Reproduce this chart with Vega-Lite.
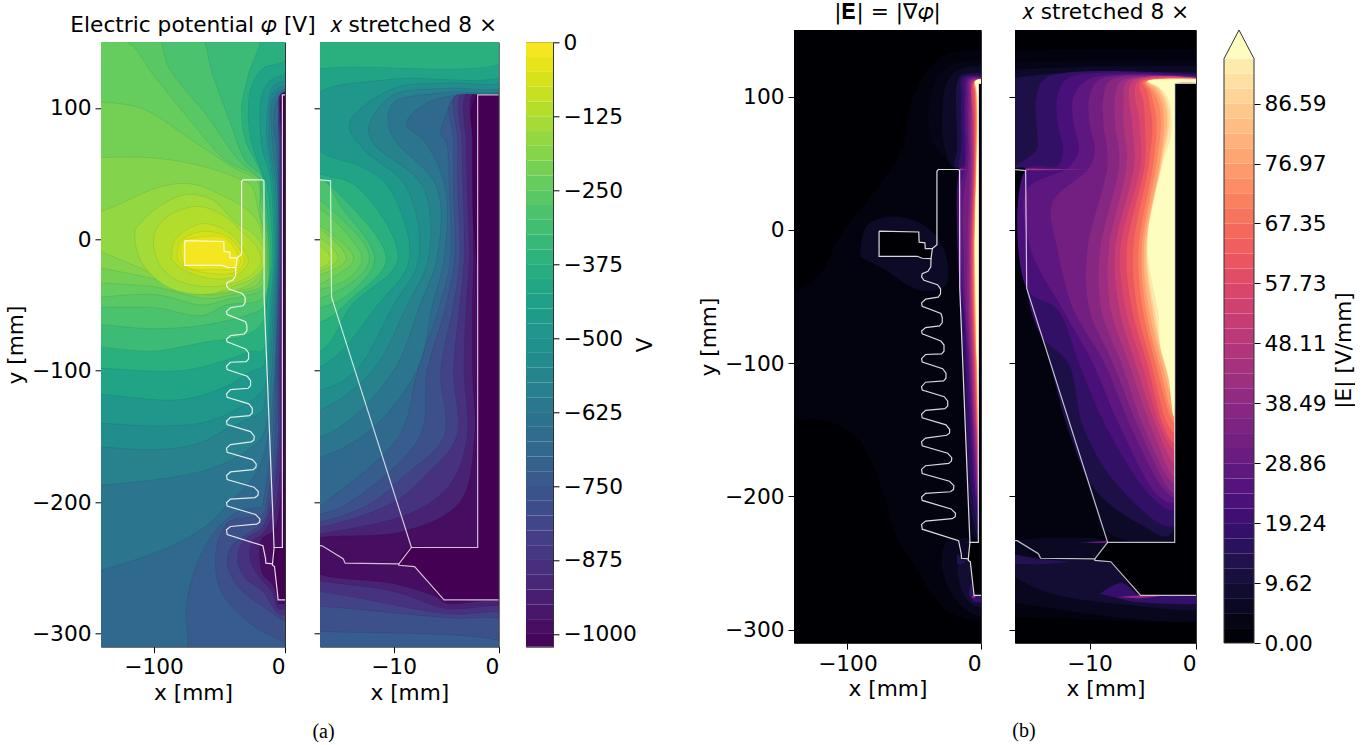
{"$schema":"https://vega.github.io/schema/vega-lite/v6.json","padding":{"left":4,"top":1,"right":0,"bottom":0},"background":"white",
"resolve":{"scale":{"fill":"independent"}},
"config":{"font":"DejaVu Sans","title":{"font":"DejaVu Sans","fontSize":21.7,"fontWeight":"normal","offset":6},"axis":{"grid":false,"domain":false,"labelFont":"DejaVu Sans","titleFont":"DejaVu Sans","labelFontSize":21.7,"titleFontSize":21.7,"titleFontWeight":"normal","tickColor":"#000","labelColor":"#000","titleColor":"#000","tickSize":6,"labelPadding":4},"view":{"stroke":"#333"}},
"datasets":{
"geom":[{"s":"e","x":-76.3,"y":-1},{"s":"e","x":-46.6,"y":-1.6},{"s":"e","x":-46.3,"y":-9.2},{"s":"e","x":-42,"y":-9.7},{"s":"e","x":-41.7,"y":-14},{"s":"e","x":-36.4,"y":-14},{"s":"e","x":-37.4,"y":-21.5},{"s":"e","x":-44,"y":-21.3},{"s":"e","x":-47.8,"y":-19.8},{"s":"e","x":-76.3,"y":-19.8},{"s":"e","x":-76.3,"y":-1},
{"s":"b","x":-36.4,"y":-14},{"s":"b","x":-33,"y":-11.2},{"s":"b","x":-33,"y":44},{"s":"b","x":-32,"y":45.3},{"s":"b","x":-17,"y":45.3},{"s":"b","x":-16,"y":44.5},{"s":"b","x":-15.9,"y":-44},{"s":"b","x":-8.3,"y":-234.5},
{"s":"i","x":-37.4,"y":-21.6},{"s":"i","x":-37.6,"y":-27.7},{"s":"i","x":-39.7,"y":-31},{"s":"i","x":-44,"y":-32.8},{"s":"i","x":-44.5,"y":-35.3},{"s":"i","x":-42.7,"y":-37.8},{"s":"i","x":-32.6,"y":-41.1},{"s":"i","x":-30.3,"y":-44.2},{"s":"i","x":-30.3,"y":-48},{"s":"i","x":-32,"y":-50.5},{"s":"i","x":-41.5,"y":-52},{"s":"i","x":-44.5,"y":-54.8},{"s":"i","x":-44,"y":-57.3},{"s":"i","x":-30,"y":-62.7},{"s":"i","x":-29,"y":-65.7},{"s":"i","x":-29,"y":-69.5},{"s":"i","x":-31,"y":-72},{"s":"i","x":-41.5,"y":-73.3},{"s":"i","x":-44.5,"y":-75.9},{"s":"i","x":-44,"y":-77.9},{"s":"i","x":-30,"y":-83.4},{"s":"i","x":-27.7,"y":-86.4},{"s":"i","x":-27.7,"y":-91},{"s":"i","x":-29.5,"y":-93},{"s":"i","x":-41.5,"y":-93.5},{"s":"i","x":-44.5,"y":-96.6},{"s":"i","x":-44,"y":-99.1},{"s":"i","x":-28.7,"y":-104.2},{"s":"i","x":-26.2,"y":-107.5},{"s":"i","x":-26.2,"y":-111.3},{"s":"i","x":-28,"y":-113.3},{"s":"i","x":-41.5,"y":-114.3},{"s":"i","x":-44.5,"y":-117.6},{"s":"i","x":-44,"y":-120.2},{"s":"i","x":-27.5,"y":-125.2},{"s":"i","x":-24.9,"y":-128.5},{"s":"i","x":-24.9,"y":-132.1},{"s":"i","x":-27,"y":-134.1},{"s":"i","x":-41.5,"y":-135.4},{"s":"i","x":-44.5,"y":-138.4},{"s":"i","x":-44,"y":-141},{"s":"i","x":-26.2,"y":-146.3},{"s":"i","x":-23.4,"y":-149.8},{"s":"i","x":-23.6,"y":-152.6},{"s":"i","x":-25.7,"y":-154.1},{"s":"i","x":-41.5,"y":-156.2},{"s":"i","x":-44.5,"y":-158.9},{"s":"i","x":-44,"y":-162},{"s":"i","x":-24.9,"y":-167.6},{"s":"i","x":-21.9,"y":-170.9},{"s":"i","x":-22.1,"y":-173.4},{"s":"i","x":-24.2,"y":-175.2},{"s":"i","x":-41.5,"y":-177},{"s":"i","x":-44.5,"y":-179.7},{"s":"i","x":-44,"y":-182.8},{"s":"i","x":-23.6,"y":-188.6},{"s":"i","x":-20.3,"y":-191.9},{"s":"i","x":-20.6,"y":-194.9},{"s":"i","x":-22.9,"y":-196.5},{"s":"i","x":-41.5,"y":-197.7},{"s":"i","x":-44.5,"y":-200.5},{"s":"i","x":-44,"y":-203},{"s":"i","x":-22.4,"y":-209.4},{"s":"i","x":-19.1,"y":-212.7},{"s":"i","x":-19.3,"y":-215.2},{"s":"i","x":-21.6,"y":-216.7},{"s":"i","x":-41.5,"y":-218.5},{"s":"i","x":-44.5,"y":-221},{"s":"i","x":-44,"y":-224.6},{"s":"i","x":-16.8,"y":-233.2},{"s":"i","x":-14.8,"y":-243},{"s":"i","x":-14.6,"y":-246.4},{"s":"i","x":-9.5,"y":-246.9},{"s":"i","x":-8.3,"y":-234.5},{"s":"i","x":-2,"y":-234.5},{"s":"i","x":-2,"y":110},{"s":"i","x":0,"y":110},
{"s":"l","x":-9.5,"y":-246.9},{"s":"l","x":-9.5,"y":-248},{"s":"l","x":-8,"y":-249},{"s":"l","x":-5.2,"y":-274.3},{"s":"l","x":0,"y":-274.3}],
"phic":[{"v":-1021,"x":-2,"y":110},{"v":-1021,"x":1,"y":110},{"v":-1021,"x":1,"y":-274.3},{"v":-1021,"x":-5.2,"y":-274.3},{"v":-1021,"x":-8,"y":-249},{"v":-1021,"x":-9.5,"y":-247},{"v":-1021,"x":-8.3,"y":-234.5},{"v":-1021,"x":-2,"y":-234.5},
{"v":-15,"x":-76.3,"y":-1},{"v":-15,"x":-46.6,"y":-1.6},{"v":-15,"x":-46.3,"y":-9.2},{"v":-15,"x":-42,"y":-9.7},{"v":-15,"x":-41.7,"y":-14},{"v":-15,"x":-36.4,"y":-14},{"v":-15,"x":-37.4,"y":-21.5},{"v":-15,"x":-44,"y":-21.3},{"v":-15,"x":-47.8,"y":-19.8},{"v":-15,"x":-76.3,"y":-19.8}],
"efc":[{"v":0.01,"x":-2,"y":110},{"v":0.01,"x":1,"y":110},{"v":0.01,"x":1,"y":-274.3},{"v":0.01,"x":-5.2,"y":-274.3},{"v":0.01,"x":-8,"y":-249},{"v":0.01,"x":-9.5,"y":-247},{"v":0.01,"x":-8.3,"y":-234.5},{"v":0.01,"x":-2,"y":-234.5},
{"v":0.02,"x":-76.3,"y":-1},{"v":0.02,"x":-46.6,"y":-1.6},{"v":0.02,"x":-46.3,"y":-9.2},{"v":0.02,"x":-42,"y":-9.7},{"v":0.02,"x":-41.7,"y":-14},{"v":0.02,"x":-36.4,"y":-14},{"v":0.02,"x":-37.4,"y":-21.5},{"v":0.02,"x":-44,"y":-21.3},{"v":0.02,"x":-47.8,"y":-19.8},{"v":0.02,"x":-76.3,"y":-19.8}],
"phi":[{"v":-1021,"x":-150,"y":160},{"v":-1021,"x":1,"y":160},{"v":-1021,"x":1,"y":-320},{"v":-1021,"x":-150,"y":-320},
{"v":-990,"x":-150,"y":160},{"v":-990,"x":1,"y":160},{"v":-990,"x":1,"y":111},{"v":-990,"x":-2,"y":111},{"v":-990,"x":-2,"y":-234.5},{"v":-990,"x":-8.3,"y":-234.5},{"v":-990,"x":-9.5,"y":-247},{"v":-990,"x":-8,"y":-249},{"v":-990,"x":-5.2,"y":-274.3},{"v":-990,"x":1,"y":-274.3},{"v":-990,"x":1,"y":-320},{"v":-990,"x":-150,"y":-320},
{"v":-925,"x":-150,"y":160},{"v":-925,"x":1,"y":160},{"v":-925,"x":1,"y":111.5},{"v":-925,"x":-2.4,"y":111},{"v":-925,"x":-2.5,"y":75},{"v":-925,"x":-2.5,"y":40},{"v":-925,"x":-2.4,"y":-15},{"v":-925,"x":-2.5,"y":-50},{"v":-925,"x":-2.5,"y":-100},{"v":-925,"x":-2.3,"y":-150},{"v":-925,"x":-3.7,"y":-200},{"v":-925,"x":-9,"y":-222},{"v":-925,"x":-17,"y":-227},{"v":-925,"x":-19,"y":-232},{"v":-925,"x":-19,"y":-245},{"v":-925,"x":-17,"y":-255},{"v":-925,"x":-10,"y":-262},{"v":-925,"x":-6,"y":-272},{"v":-925,"x":-5,"y":-277},{"v":-925,"x":1,"y":-278},{"v":-925,"x":1,"y":-320},{"v":-925,"x":-150,"y":-320},
{"v":-875,"x":-150,"y":160},{"v":-875,"x":1,"y":160},{"v":-875,"x":1,"y":112},{"v":-875,"x":-3,"y":111.5},{"v":-875,"x":-3.1,"y":74},{"v":-875,"x":-3,"y":40},{"v":-875,"x":-2.8,"y":-15},{"v":-875,"x":-3.1,"y":-50},{"v":-875,"x":-3.3,"y":-100},{"v":-875,"x":-3,"y":-150},{"v":-875,"x":-4.5,"y":-185},{"v":-875,"x":-8,"y":-207},{"v":-875,"x":-17,"y":-224},{"v":-875,"x":-25,"y":-230},{"v":-875,"x":-27,"y":-240},{"v":-875,"x":-24,"y":-250},{"v":-875,"x":-17,"y":-260},{"v":-875,"x":-10,"y":-268},{"v":-875,"x":-5,"y":-281},{"v":-875,"x":1,"y":-282},{"v":-875,"x":1,"y":-320},{"v":-875,"x":-150,"y":-320},
{"v":-825,"x":-150,"y":160},{"v":-825,"x":1,"y":160},{"v":-825,"x":1,"y":112.5},{"v":-825,"x":-3.5,"y":112},{"v":-825,"x":-3.5,"y":74},{"v":-825,"x":-3.4,"y":40},{"v":-825,"x":-3.3,"y":-15},{"v":-825,"x":-3.7,"y":-50},{"v":-825,"x":-4.3,"y":-100},{"v":-825,"x":-4,"y":-150},{"v":-825,"x":-7,"y":-180},{"v":-825,"x":-10,"y":-200},{"v":-825,"x":-17,"y":-219},{"v":-825,"x":-32,"y":-230},{"v":-825,"x":-36,"y":-245},{"v":-825,"x":-30,"y":-258},{"v":-825,"x":-17,"y":-268},{"v":-825,"x":-5,"y":-285},{"v":-825,"x":1,"y":-287},{"v":-825,"x":1,"y":-320},{"v":-825,"x":-150,"y":-320},
{"v":-775,"x":-150,"y":160},{"v":-775,"x":1,"y":160},{"v":-775,"x":1,"y":113},{"v":-775,"x":-4,"y":112.5},{"v":-775,"x":-3.9,"y":74},{"v":-775,"x":-3.9,"y":40},{"v":-775,"x":-3.7,"y":-15},{"v":-775,"x":-4.3,"y":-50},{"v":-775,"x":-5.5,"y":-100},{"v":-775,"x":-5.2,"y":-150},{"v":-775,"x":-9,"y":-180},{"v":-775,"x":-12,"y":-200},{"v":-775,"x":-17,"y":-215},{"v":-775,"x":-40,"y":-233},{"v":-775,"x":-44,"y":-245},{"v":-775,"x":-40,"y":-258},{"v":-775,"x":-30,"y":-270},{"v":-775,"x":-17,"y":-279},{"v":-775,"x":-5,"y":-288},{"v":-775,"x":1,"y":-292},{"v":-775,"x":1,"y":-320},{"v":-775,"x":-150,"y":-320},
{"v":-725,"x":-150,"y":160},{"v":-725,"x":1,"y":160},{"v":-725,"x":1,"y":113.5},{"v":-725,"x":-4.5,"y":113},{"v":-725,"x":-4.3,"y":74},{"v":-725,"x":-4.3,"y":40},{"v":-725,"x":-4.2,"y":-15},{"v":-725,"x":-5,"y":-50},{"v":-725,"x":-6.8,"y":-100},{"v":-725,"x":-7.5,"y":-150},{"v":-725,"x":-14.2,"y":-200},{"v":-725,"x":-17,"y":-209},{"v":-725,"x":-43,"y":-215},{"v":-725,"x":-52,"y":-235},{"v":-725,"x":-50,"y":-265},{"v":-725,"x":-35,"y":-285},{"v":-725,"x":-20,"y":-297},{"v":-725,"x":1,"y":-309},{"v":-725,"x":1,"y":-320},{"v":-725,"x":-150,"y":-320},
{"v":-675,"x":-150,"y":160},{"v":-675,"x":1,"y":160},{"v":-675,"x":1,"y":114},{"v":-675,"x":-4,"y":110},{"v":-675,"x":-5,"y":95},{"v":-675,"x":-5.5,"y":80},{"v":-675,"x":-5,"y":74},{"v":-675,"x":-4.7,"y":40},{"v":-675,"x":-4.6,"y":-15},{"v":-675,"x":-5.6,"y":-50},{"v":-675,"x":-7.7,"y":-100},{"v":-675,"x":-9.5,"y":-150},{"v":-675,"x":-16.5,"y":-200},{"v":-675,"x":-17,"y":-203},{"v":-675,"x":-35,"y":-207},{"v":-675,"x":-53,"y":-222},{"v":-675,"x":-68,"y":-250},{"v":-675,"x":-75,"y":-278},{"v":-675,"x":-78,"y":-320},{"v":-675,"x":-150,"y":-320},
{"v":-625,"x":-150,"y":160},{"v":-625,"x":1,"y":160},{"v":-625,"x":1,"y":115},{"v":-625,"x":-4,"y":110},{"v":-625,"x":-7,"y":103},{"v":-625,"x":-8.8,"y":88},{"v":-625,"x":-7,"y":74},{"v":-625,"x":-5.1,"y":40},{"v":-625,"x":-5.2,"y":-15},{"v":-625,"x":-6.3,"y":-50},{"v":-625,"x":-7.8,"y":-100},{"v":-625,"x":-13,"y":-150},{"v":-625,"x":-22,"y":-178},{"v":-625,"x":-42,"y":-200},{"v":-625,"x":-60,"y":-218},{"v":-625,"x":-90,"y":-235},{"v":-625,"x":-140,"y":-252},{"v":-625,"x":-150,"y":-255},
{"v":-575,"x":-150,"y":160},{"v":-575,"x":1,"y":160},{"v":-575,"x":1,"y":116},{"v":-575,"x":-5,"y":112},{"v":-575,"x":-10,"y":104},{"v":-575,"x":-10.5,"y":88},{"v":-575,"x":-9.7,"y":74},{"v":-575,"x":-5.9,"y":40},{"v":-575,"x":-5.9,"y":-15},{"v":-575,"x":-7.5,"y":-50},{"v":-575,"x":-10,"y":-100},{"v":-575,"x":-16,"y":-147},{"v":-575,"x":-25,"y":-158},{"v":-575,"x":-50,"y":-172},{"v":-575,"x":-80,"y":-180},{"v":-575,"x":-140,"y":-187},{"v":-575,"x":-150,"y":-187},
{"v":-525,"x":-150,"y":160},{"v":-525,"x":1,"y":160},{"v":-525,"x":1,"y":118},{"v":-525,"x":-5,"y":115},{"v":-525,"x":-10,"y":110},{"v":-525,"x":-12.3,"y":88},{"v":-525,"x":-12,"y":74},{"v":-525,"x":-7.2,"y":40},{"v":-525,"x":-6.7,"y":-15},{"v":-525,"x":-8.7,"y":-50},{"v":-525,"x":-12,"y":-100},{"v":-525,"x":-17,"y":-130},{"v":-525,"x":-20,"y":-133},{"v":-525,"x":-42,"y":-143},{"v":-525,"x":-65,"y":-155},{"v":-525,"x":-98,"y":-160},{"v":-525,"x":-140,"y":-158},{"v":-525,"x":-150,"y":-158},
{"v":-475,"x":-150,"y":160},{"v":-475,"x":1,"y":160},{"v":-475,"x":1,"y":122},{"v":-475,"x":-5,"y":119},{"v":-475,"x":-10,"y":115},{"v":-475,"x":-14.2,"y":88},{"v":-475,"x":-13,"y":70},{"v":-475,"x":-8.8,"y":40},{"v":-475,"x":-7.6,"y":-15},{"v":-475,"x":-10,"y":-50},{"v":-475,"x":-13.6,"y":-100},{"v":-475,"x":-17,"y":-115},{"v":-475,"x":-42,"y":-132},{"v":-475,"x":-65,"y":-140},{"v":-475,"x":-100,"y":-142},{"v":-475,"x":-140,"y":-140},{"v":-475,"x":-150,"y":-140},
{"v":-425,"x":-150,"y":160},{"v":-425,"x":1,"y":160},{"v":-425,"x":1,"y":127},{"v":-425,"x":-10,"y":122},{"v":-425,"x":-17,"y":112},{"v":-425,"x":-19,"y":90},{"v":-425,"x":-17,"y":67},{"v":-425,"x":-13,"y":55},{"v":-425,"x":-10.5,"y":40},{"v":-425,"x":-8.5,"y":-15},{"v":-425,"x":-11.5,"y":-50},{"v":-425,"x":-17,"y":-97},{"v":-425,"x":-25,"y":-100},{"v":-425,"x":-45,"y":-112},{"v":-425,"x":-80,"y":-122},{"v":-425,"x":-140,"y":-118},{"v":-425,"x":-150,"y":-118},
{"v":-375,"x":-150,"y":160},{"v":-375,"x":1,"y":160},{"v":-375,"x":1,"y":137},{"v":-375,"x":-17,"y":130},{"v":-375,"x":-25,"y":118},{"v":-375,"x":-28,"y":95},{"v":-375,"x":-25,"y":72},{"v":-375,"x":-17,"y":50},{"v":-375,"x":-13.5,"y":40},{"v":-375,"x":-9.6,"y":-15},{"v":-375,"x":-14,"y":-50},{"v":-375,"x":-17,"y":-85},{"v":-375,"x":-25,"y":-85},{"v":-375,"x":-45,"y":-92},{"v":-375,"x":-80,"y":-100},{"v":-375,"x":-140,"y":-98},{"v":-375,"x":-150,"y":-98},
{"v":-325,"x":-150,"y":160},{"v":-325,"x":-20,"y":160},{"v":-325,"x":-28,"y":125},{"v":-325,"x":-33,"y":100},{"v":-325,"x":-30,"y":75},{"v":-325,"x":-20,"y":55},{"v":-325,"x":-17,"y":47},{"v":-325,"x":-15.5,"y":37},{"v":-325,"x":-10.7,"y":-15},{"v":-325,"x":-14,"y":-45},{"v":-325,"x":-17,"y":-63},{"v":-325,"x":-30,"y":-73},{"v":-325,"x":-60,"y":-78},{"v":-325,"x":-100,"y":-85},{"v":-325,"x":-140,"y":-82},{"v":-325,"x":-150,"y":-82},
{"v":-290,"x":-150,"y":160},{"v":-290,"x":-68,"y":160},{"v":-290,"x":-55,"y":125},{"v":-290,"x":-42,"y":90},{"v":-290,"x":-30,"y":60},{"v":-290,"x":-17,"y":47},{"v":-290,"x":-15,"y":25},{"v":-290,"x":-11.8,"y":-15},{"v":-290,"x":-14,"y":-40},{"v":-290,"x":-17,"y":-52},{"v":-290,"x":-30,"y":-58},{"v":-290,"x":-60,"y":-65},{"v":-290,"x":-100,"y":-68},{"v":-290,"x":-140,"y":-65},{"v":-290,"x":-150,"y":-65},
{"v":-262,"x":-150,"y":160},{"v":-262,"x":-100,"y":160},{"v":-262,"x":-88,"y":130},{"v":-262,"x":-60,"y":95},{"v":-262,"x":-35,"y":60},{"v":-262,"x":-20,"y":46},{"v":-262,"x":-17,"y":30},{"v":-262,"x":-12.3,"y":-15},{"v":-262,"x":-17,"y":-45},{"v":-262,"x":-45,"y":-50},{"v":-262,"x":-63,"y":-58},{"v":-262,"x":-99,"y":-52},{"v":-262,"x":-150,"y":-52},
{"v":-240,"x":-150,"y":150},{"v":-240,"x":-120,"y":150},{"v":-240,"x":-100,"y":125},{"v":-240,"x":-70,"y":88},{"v":-240,"x":-45,"y":60},{"v":-240,"x":-20,"y":46},{"v":-240,"x":-19,"y":28},{"v":-240,"x":-17,"y":23},{"v":-240,"x":-14,"y":0},{"v":-240,"x":-13,"y":-15},{"v":-240,"x":-14,"y":-28},{"v":-240,"x":-17,"y":-38},{"v":-240,"x":-45,"y":-46},{"v":-240,"x":-63,"y":-50},{"v":-240,"x":-99,"y":-42},{"v":-240,"x":-150,"y":-45},
{"v":-215,"x":-150,"y":105},{"v":-215,"x":-110,"y":100},{"v":-215,"x":-70,"y":75},{"v":-215,"x":-40,"y":55},{"v":-215,"x":-21,"y":44},{"v":-215,"x":-19,"y":20},{"v":-215,"x":-16,"y":5},{"v":-215,"x":-13.8,"y":-15},{"v":-215,"x":-16,"y":-30},{"v":-215,"x":-18,"y":-36},{"v":-215,"x":-40,"y":-42},{"v":-215,"x":-60,"y":-45},{"v":-215,"x":-100,"y":-36},{"v":-215,"x":-150,"y":-33},
{"v":-190,"x":-150,"y":62},{"v":-190,"x":-100,"y":62},{"v":-190,"x":-60,"y":55},{"v":-190,"x":-33,"y":45},{"v":-190,"x":-25,"y":40},{"v":-190,"x":-20,"y":20},{"v":-190,"x":-17,"y":8},{"v":-190,"x":-14.5,"y":-15},{"v":-190,"x":-17,"y":-27},{"v":-190,"x":-22,"y":-35},{"v":-190,"x":-40,"y":-40},{"v":-190,"x":-60,"y":-42},{"v":-190,"x":-100,"y":-30},{"v":-190,"x":-150,"y":-20},
{"v":-165,"x":-150,"y":18},{"v":-165,"x":-130,"y":25},{"v":-165,"x":-95,"y":40},{"v":-165,"x":-70,"y":42},{"v":-165,"x":-45,"y":32},{"v":-165,"x":-28,"y":22},{"v":-165,"x":-20,"y":12},{"v":-165,"x":-16,"y":-5},{"v":-165,"x":-15.3,"y":-15},{"v":-165,"x":-17,"y":-24},{"v":-165,"x":-28,"y":-35},{"v":-165,"x":-45,"y":-40},{"v":-165,"x":-70,"y":-38},{"v":-165,"x":-100,"y":-26},{"v":-165,"x":-150,"y":-5},
{"v":-140,"x":-114,"y":8},{"v":-140,"x":-100,"y":22},{"v":-140,"x":-76,"y":34},{"v":-140,"x":-55,"y":30},{"v":-140,"x":-37.6,"y":13},{"v":-140,"x":-25,"y":5},{"v":-140,"x":-17,"y":-5},{"v":-140,"x":-16,"y":-15},{"v":-140,"x":-17,"y":-22},{"v":-140,"x":-25,"y":-30},{"v":-140,"x":-40,"y":-36},{"v":-140,"x":-56.7,"y":-41.6},{"v":-140,"x":-86,"y":-37.8},{"v":-140,"x":-107.6,"y":-20},{"v":-140,"x":-114,"y":-2.3},{"v":-140,"x":-114,"y":8},
{"v":-115,"x":-100,"y":-5},{"v":-115,"x":-98,"y":8},{"v":-115,"x":-85,"y":20},{"v":-115,"x":-65,"y":25},{"v":-115,"x":-45,"y":17},{"v":-115,"x":-33,"y":6},{"v":-115,"x":-22,"y":-5},{"v":-115,"x":-18,"y":-15},{"v":-115,"x":-22,"y":-24},{"v":-115,"x":-35,"y":-32},{"v":-115,"x":-55,"y":-36},{"v":-115,"x":-80,"y":-32},{"v":-115,"x":-95,"y":-20},{"v":-115,"x":-100,"y":-5},
{"v":-90,"x":-86.5,"y":-15},{"v":-90,"x":-83.4,"y":0},{"v":-90,"x":-63,"y":12},{"v":-90,"x":-42.7,"y":5},{"v":-90,"x":-30,"y":-10},{"v":-90,"x":-28,"y":-17.5},{"v":-90,"x":-37.6,"y":-27.7},{"v":-90,"x":-55.5,"y":-30},{"v":-90,"x":-78,"y":-22.6},{"v":-90,"x":-86.5,"y":-15},
{"v":-65,"x":-82,"y":-15},{"v":-65,"x":-80,"y":-2},{"v":-65,"x":-63,"y":6},{"v":-65,"x":-44,"y":2},{"v":-65,"x":-33,"y":-10},{"v":-65,"x":-31,"y":-17},{"v":-65,"x":-38,"y":-25},{"v":-65,"x":-56,"y":-26},{"v":-65,"x":-76,"y":-21},{"v":-65,"x":-82,"y":-15},
{"v":-40,"x":-79,"y":-12},{"v":-40,"x":-78,"y":-2},{"v":-40,"x":-62,"y":2},{"v":-40,"x":-46,"y":1},{"v":-40,"x":-36,"y":-11},{"v":-40,"x":-34,"y":-18},{"v":-40,"x":-40,"y":-23},{"v":-40,"x":-48,"y":-23},{"v":-40,"x":-75,"y":-21},{"v":-40,"x":-79,"y":-12}],
"ef":[{"v":0,"x":-150,"y":160},{"v":0,"x":1,"y":160},{"v":0,"x":1,"y":-320},{"v":0,"x":-150,"y":-320},
{"v":2.4,"x":1,"y":137},{"v":2.4,"x":0,"y":136},{"v":2.4,"x":-29.4,"y":130},{"v":2.4,"x":-51.8,"y":97.8},{"v":2.4,"x":-59.3,"y":60.3},{"v":2.4,"x":-76.8,"y":32.8},{"v":2.4,"x":-104,"y":-2.2},{"v":2.4,"x":-121.7,"y":-34.7},{"v":2.4,"x":-140,"y":-47},{"v":2.4,"x":-150,"y":-50},{"v":2.4,"x":-150,"y":-140},{"v":2.4,"x":-121.7,"y":-142.3},{"v":2.4,"x":-96.7,"y":-152.3},{"v":2.4,"x":-81.8,"y":-174.8},{"v":2.4,"x":-71.8,"y":-202.3},{"v":2.4,"x":-66.8,"y":-222.3},{"v":2.4,"x":-46.9,"y":-257.3},{"v":2.4,"x":-26.9,"y":-284.8},{"v":2.4,"x":0,"y":-294.8},{"v":2.4,"x":1,"y":-295},
{"v":7.1,"x":-90.5,"y":-20},{"v":7.1,"x":-85.5,"y":3},{"v":7.1,"x":-66.8,"y":10},{"v":7.1,"x":-41.9,"y":3},{"v":7.1,"x":-26.9,"y":-17},{"v":7.1,"x":-26.9,"y":-42},{"v":7.1,"x":-46.9,"y":-45},{"v":7.1,"x":-71.8,"y":-30},{"v":7.1,"x":-90.5,"y":-20},
{"v":5,"x":-17,"y":-230},{"v":5,"x":-24.4,"y":-232},{"v":5,"x":-29.4,"y":-245},{"v":5,"x":-26.9,"y":-262},{"v":5,"x":-16.9,"y":-280},{"v":5,"x":1,"y":-290},{"v":5,"x":1,"y":-274},{"v":5,"x":-5,"y":-274},{"v":5,"x":-8,"y":-249},{"v":5,"x":-9.5,"y":-247},{"v":5,"x":-14.7,"y":-246},{"v":5,"x":-16.8,"y":-233},
{"v":6,"x":-17,"y":-233},{"v":6,"x":-14,"y":-231},{"v":6,"x":-9,"y":-232},{"v":6,"x":-8.3,"y":-234.5},{"v":6,"x":-9.5,"y":-247},{"v":6,"x":-14.7,"y":-246},
{"v":9,"x":-17.5,"y":-247},{"v":9,"x":-14.7,"y":-247},{"v":9,"x":-9.5,"y":-248},{"v":9,"x":-8,"y":-249},{"v":9,"x":-5.2,"y":-274.3},{"v":9,"x":1,"y":-274.3},{"v":9,"x":1,"y":-283},{"v":9,"x":-7,"y":-281},{"v":9,"x":-14,"y":-272},{"v":9,"x":-17.5,"y":-258},
{"v":14,"x":-18,"y":-242},{"v":14,"x":-15,"y":-246.5},{"v":14,"x":-12,"y":-249},{"v":14,"x":-15,"y":-251},{"v":14,"x":-18,"y":-250},
{"v":18,"x":-9,"y":-273},{"v":18,"x":-7,"y":-265},{"v":18,"x":-5.2,"y":-274.3},{"v":18,"x":1,"y":-274.3},{"v":18,"x":1,"y":-279},{"v":18,"x":-6,"y":-279},
{"v":40,"x":-7.5,"y":-275.5},{"v":40,"x":-5.2,"y":-274.3},{"v":40,"x":-3,"y":-274.3},{"v":40,"x":-5.5,"y":-276.5},
{"v":4,"x":1,"y":127},{"v":4,"x":-20,"y":125},{"v":4,"x":-35,"y":110},{"v":4,"x":-38,"y":70},{"v":4,"x":-25,"y":52},{"v":4,"x":-15.9,"y":46},{"v":4,"x":-15.9,"y":-44},{"v":4,"x":-14.3,"y":-83},{"v":4,"x":-8.8,"y":-220},{"v":4,"x":-8.3,"y":-234},{"v":4,"x":-2,"y":-234},{"v":4,"x":-2,"y":108},{"v":4,"x":-2,"y":110},{"v":4,"x":1,"y":110},
{"v":7,"x":1,"y":123},{"v":7,"x":-15,"y":121},{"v":7,"x":-25,"y":112},{"v":7,"x":-29,"y":90},{"v":7,"x":-28,"y":65},{"v":7,"x":-22,"y":48},{"v":7,"x":-15.9,"y":45.5},{"v":7,"x":-15.9,"y":-44},{"v":7,"x":-14.3,"y":-83},{"v":7,"x":-9.4,"y":-210},{"v":7,"x":-8.7,"y":-225},{"v":7,"x":-2,"y":-232},{"v":7,"x":-2,"y":108},{"v":7,"x":-2,"y":110},{"v":7,"x":1,"y":110},
{"v":12,"x":1,"y":118},{"v":12,"x":-15,"y":116},{"v":12,"x":-18,"y":110},{"v":12,"x":-18.5,"y":85},{"v":12,"x":-18,"y":60},{"v":12,"x":-20,"y":47},{"v":12,"x":-15.9,"y":45.5},{"v":12,"x":-15.9,"y":-44},{"v":12,"x":-14.3,"y":-83},{"v":12,"x":-12,"y":-150},{"v":12,"x":-9.5,"y":-195},{"v":12,"x":-5,"y":-222},{"v":12,"x":-2.5,"y":-229},{"v":12,"x":-2,"y":108},{"v":12,"x":-2,"y":110},{"v":12,"x":1,"y":110},
{"v":17,"x":1,"y":116},{"v":17,"x":-14,"y":114.5},{"v":17,"x":-15,"y":100},{"v":17,"x":-15,"y":80},{"v":17,"x":-15,"y":60},{"v":17,"x":-17,"y":47},{"v":17,"x":-15.9,"y":45.5},{"v":17,"x":-15.9,"y":-44},{"v":17,"x":-14.5,"y":-80},{"v":17,"x":-12,"y":-100},{"v":17,"x":-10.5,"y":-150},{"v":17,"x":-7,"y":-195},{"v":17,"x":-2,"y":-222},{"v":17,"x":-2,"y":108},{"v":17,"x":-2,"y":110},{"v":17,"x":1,"y":110},
{"v":22,"x":1,"y":115},{"v":22,"x":-12,"y":114},{"v":22,"x":-13,"y":100},{"v":22,"x":-13,"y":80},{"v":22,"x":-12.5,"y":60},{"v":22,"x":-13,"y":48},{"v":22,"x":-15.9,"y":46},{"v":22,"x":-15.9,"y":-44},{"v":22,"x":-13,"y":-60},{"v":22,"x":-11,"y":-100},{"v":22,"x":-8.3,"y":-150},{"v":22,"x":-4.2,"y":-200},{"v":22,"x":-2,"y":-210},{"v":22,"x":-2,"y":108},{"v":22,"x":-2,"y":110},{"v":22,"x":1,"y":110},
{"v":27,"x":1,"y":114.5},{"v":27,"x":-10,"y":113.5},{"v":27,"x":-11.5,"y":100},{"v":27,"x":-11.5,"y":80},{"v":27,"x":-11,"y":60},{"v":27,"x":-12,"y":47},{"v":27,"x":-15.9,"y":30},{"v":27,"x":-15.5,"y":-15},{"v":27,"x":-12.5,"y":-60},{"v":27,"x":-9.7,"y":-100},{"v":27,"x":-7,"y":-150},{"v":27,"x":-3.5,"y":-200},{"v":27,"x":-2,"y":-204},{"v":27,"x":-2,"y":108},{"v":27,"x":-2,"y":110},{"v":27,"x":1,"y":110},
{"v":32,"x":1,"y":114},{"v":32,"x":-9,"y":113},{"v":32,"x":-10,"y":100},{"v":32,"x":-10,"y":80},{"v":32,"x":-9.5,"y":60},{"v":32,"x":-10,"y":47},{"v":32,"x":-13.5,"y":20},{"v":32,"x":-13,"y":-15},{"v":32,"x":-11.5,"y":-60},{"v":32,"x":-8.6,"y":-100},{"v":32,"x":-6,"y":-150},{"v":32,"x":-3,"y":-195},{"v":32,"x":-2,"y":-200},{"v":32,"x":-2,"y":108},{"v":32,"x":-2,"y":110},{"v":32,"x":1,"y":110},
{"v":37,"x":1,"y":113.5},{"v":37,"x":-8,"y":112.5},{"v":37,"x":-8.7,"y":100},{"v":37,"x":-8.7,"y":80},{"v":37,"x":-8.3,"y":50},{"v":37,"x":-10.2,"y":-15},{"v":37,"x":-10,"y":-60},{"v":37,"x":-7.8,"y":-100},{"v":37,"x":-5.3,"y":-150},{"v":37,"x":-2.5,"y":-195},{"v":37,"x":-2,"y":-197},{"v":37,"x":-2,"y":108},{"v":37,"x":-2,"y":110},{"v":37,"x":1,"y":110},
{"v":42,"x":1,"y":113.3},{"v":42,"x":-7,"y":112},{"v":42,"x":-7.6,"y":100},{"v":42,"x":-7.6,"y":80},{"v":42,"x":-7.2,"y":50},{"v":42,"x":-9,"y":-15},{"v":42,"x":-8.9,"y":-60},{"v":42,"x":-7,"y":-100},{"v":42,"x":-4.8,"y":-150},{"v":42,"x":-2,"y":-190},{"v":42,"x":-2,"y":108},{"v":42,"x":-2,"y":110},{"v":42,"x":1,"y":110},
{"v":47,"x":1,"y":113.2},{"v":47,"x":-6.5,"y":111.5},{"v":47,"x":-6.8,"y":95},{"v":47,"x":-6.8,"y":80},{"v":47,"x":-6.5,"y":50},{"v":47,"x":-8.2,"y":-15},{"v":47,"x":-8,"y":-60},{"v":47,"x":-6.3,"y":-100},{"v":47,"x":-4.1,"y":-150},{"v":47,"x":-2,"y":-185},{"v":47,"x":-2,"y":108},{"v":47,"x":-2,"y":110},{"v":47,"x":1,"y":110},
{"v":52,"x":1,"y":113.2},{"v":52,"x":-6,"y":111.2},{"v":52,"x":-6,"y":80},{"v":52,"x":-5.8,"y":50},{"v":52,"x":-7.6,"y":-15},{"v":52,"x":-7.2,"y":-60},{"v":52,"x":-5.7,"y":-100},{"v":52,"x":-3.6,"y":-150},{"v":52,"x":-2,"y":-175},{"v":52,"x":-2,"y":108},{"v":52,"x":-2,"y":110},{"v":52,"x":1,"y":110},
{"v":57,"x":1,"y":113},{"v":57,"x":-5.5,"y":111},{"v":57,"x":-5.3,"y":80},{"v":57,"x":-5.2,"y":50},{"v":57,"x":-7.1,"y":-15},{"v":57,"x":-6.6,"y":-60},{"v":57,"x":-5.1,"y":-100},{"v":57,"x":-3.2,"y":-150},{"v":57,"x":-2,"y":-165},{"v":57,"x":-2,"y":108},{"v":57,"x":-2,"y":110},{"v":57,"x":1,"y":110},
{"v":62,"x":1,"y":113},{"v":62,"x":-5.2,"y":111},{"v":62,"x":-4.9,"y":95},{"v":62,"x":-4.8,"y":80},{"v":62,"x":-4.8,"y":50},{"v":62,"x":-6.5,"y":-15},{"v":62,"x":-6,"y":-60},{"v":62,"x":-4.6,"y":-100},{"v":62,"x":-2.9,"y":-150},{"v":62,"x":-2,"y":-160},{"v":62,"x":-2,"y":108},{"v":62,"x":-2,"y":110},{"v":62,"x":1,"y":110},
{"v":67,"x":1,"y":113},{"v":67,"x":-5,"y":111},{"v":67,"x":-4.6,"y":104},{"v":67,"x":-4.3,"y":92},{"v":67,"x":-4.1,"y":80},{"v":67,"x":-4.4,"y":50},{"v":67,"x":-5.9,"y":-15},{"v":67,"x":-5.5,"y":-60},{"v":67,"x":-4.2,"y":-100},{"v":67,"x":-2.7,"y":-145},{"v":67,"x":-2,"y":-152},{"v":67,"x":-2,"y":108},{"v":67,"x":-2,"y":110},{"v":67,"x":1,"y":110},
{"v":72,"x":1,"y":113},{"v":72,"x":-4.8,"y":111.2},{"v":72,"x":-4.3,"y":104},{"v":72,"x":-3.9,"y":92},{"v":72,"x":-3.7,"y":80},{"v":72,"x":-4,"y":50},{"v":72,"x":-5.4,"y":-15},{"v":72,"x":-5,"y":-60},{"v":72,"x":-3.8,"y":-100},{"v":72,"x":-2.4,"y":-140},{"v":72,"x":-2,"y":-145},{"v":72,"x":-2,"y":108},{"v":72,"x":-2,"y":110},{"v":72,"x":1,"y":110},
{"v":77,"x":1,"y":113},{"v":77,"x":-4.7,"y":111.3},{"v":77,"x":-4,"y":104},{"v":77,"x":-3.5,"y":95},{"v":77,"x":-3.3,"y":80},{"v":77,"x":-3.7,"y":50},{"v":77,"x":-5.1,"y":-15},{"v":77,"x":-4.7,"y":-60},{"v":77,"x":-3.5,"y":-100},{"v":77,"x":-2,"y":-140},{"v":77,"x":-2,"y":108},{"v":77,"x":-2,"y":110},{"v":77,"x":1,"y":110},
{"v":82,"x":1,"y":113},{"v":82,"x":-4.6,"y":111.4},{"v":82,"x":-3.8,"y":105},{"v":82,"x":-3.2,"y":95},{"v":82,"x":-3,"y":80},{"v":82,"x":-3.4,"y":50},{"v":82,"x":-4.9,"y":-15},{"v":82,"x":-4.4,"y":-60},{"v":82,"x":-3.2,"y":-100},{"v":82,"x":-2,"y":-130},{"v":82,"x":-2,"y":108},{"v":82,"x":-2,"y":110},{"v":82,"x":1,"y":110},
{"v":87,"x":1,"y":113},{"v":87,"x":-4.5,"y":111.5},{"v":87,"x":-3.6,"y":106},{"v":87,"x":-2.9,"y":95},{"v":87,"x":-2.7,"y":80},{"v":87,"x":-3.3,"y":50},{"v":87,"x":-4.7,"y":-15},{"v":87,"x":-4.1,"y":-60},{"v":87,"x":-3,"y":-100},{"v":87,"x":-2,"y":-122},{"v":87,"x":-2,"y":108},{"v":87,"x":-2,"y":110},{"v":87,"x":1,"y":110},
{"v":92,"x":1,"y":113},{"v":92,"x":-4.5,"y":111.5},{"v":92,"x":-3.5,"y":107},{"v":92,"x":-2.7,"y":95},{"v":92,"x":-2.5,"y":80},{"v":92,"x":-3.2,"y":50},{"v":92,"x":-4.6,"y":-15},{"v":92,"x":-3.8,"y":-65},{"v":92,"x":-2.9,"y":-100},{"v":92,"x":-2,"y":-115},{"v":92,"x":-2,"y":108},{"v":92,"x":-2,"y":110},{"v":92,"x":1,"y":110},
{"v":96.2,"x":1,"y":113},{"v":96.2,"x":-2,"y":113},{"v":96.2,"x":-4.5,"y":111.5},{"v":96.2,"x":-3.5,"y":107},{"v":96.2,"x":-2.6,"y":98},{"v":96.2,"x":-2.3,"y":73},{"v":96.2,"x":-3.2,"y":48},{"v":96.2,"x":-4.5,"y":-2},{"v":96.2,"x":-4.5,"y":-22},{"v":96.2,"x":-3.5,"y":-65},{"v":96.2,"x":-3.4,"y":-85},{"v":96.2,"x":-2.6,"y":-110},{"v":96.2,"x":-2.1,"y":-140},{"v":96.2,"x":-2,"y":108},{"v":96.2,"x":-2,"y":110},{"v":96.2,"x":1,"y":110.3},
{"v":33.5,"x":-16,"y":46},{"v":33.5,"x":-10,"y":45.3},{"v":33.5,"x":-16,"y":44.5},
{"v":45.5,"x":-16,"y":45.8},{"v":45.5,"x":-12.5,"y":45.3},{"v":45.5,"x":-16,"y":44.8},
{"v":28,"x":-11,"y":-234.5},{"v":28,"x":-8.3,"y":-234.5},{"v":28,"x":-8.5,"y":-233.5}],
"cb1":[{"a":-1021.6,"b":-1000,"m":-1011},{"a":-1000,"b":-975,"m":-987},{"a":-975,"b":-950,"m":-962},{"a":-950,"b":-925,"m":-937},{"a":-925,"b":-900,"m":-912},{"a":-900,"b":-875,"m":-887},{"a":-875,"b":-850,"m":-862},{"a":-850,"b":-825,"m":-837},{"a":-825,"b":-800,"m":-812},{"a":-800,"b":-775,"m":-787},{"a":-775,"b":-750,"m":-762},{"a":-750,"b":-725,"m":-737},{"a":-725,"b":-700,"m":-712},{"a":-700,"b":-675,"m":-687},{"a":-675,"b":-650,"m":-662},{"a":-650,"b":-625,"m":-637},{"a":-625,"b":-600,"m":-612},{"a":-600,"b":-575,"m":-587},{"a":-575,"b":-550,"m":-562},{"a":-550,"b":-525,"m":-537},{"a":-525,"b":-500,"m":-512},{"a":-500,"b":-475,"m":-487},{"a":-475,"b":-450,"m":-462},{"a":-450,"b":-425,"m":-437},{"a":-425,"b":-400,"m":-412},{"a":-400,"b":-375,"m":-387},{"a":-375,"b":-350,"m":-362},{"a":-350,"b":-325,"m":-337},{"a":-325,"b":-300,"m":-312},{"a":-300,"b":-275,"m":-287},{"a":-275,"b":-250,"m":-262},{"a":-250,"b":-225,"m":-237},{"a":-225,"b":-200,"m":-212},{"a":-200,"b":-175,"m":-187},{"a":-175,"b":-150,"m":-162},{"a":-150,"b":-125,"m":-137},{"a":-125,"b":-100,"m":-112},{"a":-100,"b":-75,"m":-87},{"a":-75,"b":-50,"m":-62},{"a":-50,"b":-25,"m":-37},{"a":-25,"b":0,"m":-12}],
"cb2":[{"a":0,"b":2.4,"m":1.2},{"a":2.4,"b":4.8,"m":3.6},{"a":4.8,"b":7.2,"m":6},{"a":7.2,"b":9.62,"m":8.4},{"a":9.62,"b":12,"m":10.8},{"a":12,"b":14.4,"m":13.2},{"a":14.4,"b":16.8,"m":15.6},{"a":16.8,"b":19.24,"m":18},{"a":19.24,"b":21.6,"m":20.4},{"a":21.6,"b":24,"m":22.8},{"a":24,"b":26.4,"m":25.2},{"a":26.4,"b":28.86,"m":27.6},{"a":28.86,"b":31.3,"m":30},{"a":31.3,"b":33.7,"m":32.5},{"a":33.7,"b":36.1,"m":34.9},{"a":36.1,"b":38.49,"m":37.3},{"a":38.49,"b":40.9,"m":39.7},{"a":40.9,"b":43.3,"m":42.1},{"a":43.3,"b":45.7,"m":44.5},{"a":45.7,"b":48.11,"m":46.9},{"a":48.11,"b":50.5,"m":49.3},{"a":50.5,"b":52.9,"m":51.7},{"a":52.9,"b":55.3,"m":54.1},{"a":55.3,"b":57.73,"m":56.5},{"a":57.73,"b":60.1,"m":58.9},{"a":60.1,"b":62.5,"m":61.3},{"a":62.5,"b":64.9,"m":63.7},{"a":64.9,"b":67.35,"m":66.1},{"a":67.35,"b":69.8,"m":68.6},{"a":69.8,"b":72.2,"m":71},{"a":72.2,"b":74.6,"m":73.4},{"a":74.6,"b":76.97,"m":75.8},{"a":76.97,"b":79.4,"m":78.2},{"a":79.4,"b":81.8,"m":80.6},{"a":81.8,"b":84.2,"m":83},{"a":84.2,"b":86.59,"m":85.4},{"a":86.59,"b":89,"m":87.8},{"a":89,"b":91.4,"m":90.2},{"a":91.4,"b":93.8,"m":92.6}],
"tip":[{"x":0,"y":93.8,"y2":93.8},{"x":0.5,"y":98.4,"y2":93.8},{"x":1,"y":93.8,"y2":93.8}],
"edge":[{"x":0,"y":0},{"x":0,"y":93.8},{"x":0.5,"y":98.4},{"x":1,"y":93.8},{"x":1,"y":0},{"x":0,"y":0}]
},
"spacing":40,
"hconcat":[
{"vconcat":[
{"width":10,"height":1,"view":{"stroke":null},"data":{"values":[{"c":""}]},"mark":{"type":"text"},"encoding":{"text":{"field":"c"}}},
{"bounds":"flush","spacing":0,"hconcat":[
{"width":184,"height":604.4,"title":"Electric potential 𝜑 [V]","layer":[
{"data":{"name":"phi"},"mark":{"type":"line","clip":true,"interpolate":"catmull-rom","stroke":"#000","strokeOpacity":0.12,"strokeWidth":0.6},"encoding":{"x":{"field":"x","type":"quantitative","scale":{"domain":[-140,0],"nice":false,"zero":false},"axis":{"values":[-100,0],"title":"x [mm]"}},"y":{"field":"y","type":"quantitative","scale":{"domain":[-310,150],"nice":false,"zero":false},"axis":{"values":[100,0,-100,-200,-300],"title":"y [mm]"}},"fill":{"field":"v","type":"quantitative","scale":{"scheme":"viridis","domain":[-1021.6,0]},"legend":null},"order":{"value":null}}},
{"data":{"name":"phic"},"mark":{"type":"line","clip":true,"strokeOpacity":0},"encoding":{"x":{"field":"x","type":"quantitative"},"y":{"field":"y","type":"quantitative"},"fill":{"field":"v","type":"quantitative"},"order":{"value":null}}},
{"data":{"name":"geom"},"mark":{"type":"line","clip":true,"stroke":"white","strokeWidth":1.2,"strokeOpacity":0.85},"encoding":{"x":{"field":"x","type":"quantitative"},"y":{"field":"y","type":"quantitative"},"detail":{"field":"s"},"order":{"value":null}}}]},
{"width":34.3,"height":1,"view":{"stroke":null},"data":{"values":[{"c":""}]},"mark":{"type":"text"},"encoding":{"text":{"field":"c"}}},
{"width":178.7,"height":604.4,"title":{"text":"𝑥 stretched 8 ×","dx":4},"layer":[
{"data":{"name":"phi"},"mark":{"type":"line","clip":true,"interpolate":"catmull-rom","stroke":"#000","strokeOpacity":0.12,"strokeWidth":0.6},"encoding":{"x":{"field":"x","type":"quantitative","scale":{"domain":[-17,0],"nice":false,"zero":false},"axis":{"values":[-10,0],"title":"x [mm]"}},"y":{"field":"y","type":"quantitative","scale":{"domain":[-310,150],"nice":false,"zero":false},"axis":{"values":[100,0,-100,-200,-300],"labels":false,"title":null}},"fill":{"field":"v","type":"quantitative","scale":{"scheme":"viridis","domain":[-1021.6,0]},"legend":null},"order":{"value":null}}},
{"data":{"name":"phic"},"mark":{"type":"line","clip":true,"strokeOpacity":0},"encoding":{"x":{"field":"x","type":"quantitative"},"y":{"field":"y","type":"quantitative"},"fill":{"field":"v","type":"quantitative"},"order":{"value":null}}},
{"data":{"name":"geom"},"mark":{"type":"line","clip":true,"stroke":"white","strokeWidth":1.2,"strokeOpacity":0.75},"encoding":{"x":{"field":"x","type":"quantitative"},"y":{"field":"y","type":"quantitative"},"detail":{"field":"s"},"order":{"value":null}}}]},
{"width":27,"height":1,"view":{"stroke":null},"data":{"values":[{"c":""}]},"mark":{"type":"text"},"encoding":{"text":{"field":"c"}}},
{"width":27,"height":604.4,"data":{"name":"cb1"},"mark":{"type":"rect"},"encoding":{"y":{"field":"a","type":"quantitative","scale":{"domain":[-1021.6,0],"nice":false,"zero":false},"axis":{"orient":"right","values":[0,-125,-250,-375,-500,-625,-750,-875,-1000],"format":"d","title":"V","titleAngle":270,"titlePadding":20}},"y2":{"field":"b"},"fill":{"field":"m","type":"quantitative","scale":{"scheme":"viridis","domain":[-1021.6,0]},"legend":null}}}
]},
{"width":451,"height":1,"view":{"stroke":null},"data":{"values":[{"c":"(a)"}]},"mark":{"type":"text","font":"Liberation Serif","fontSize":20,"dx":-3,"dy":26},"encoding":{"text":{"field":"c"}}}
],"spacing":-22.7},
{"vconcat":[
{"bounds":"flush","spacing":0,"hconcat":[
{"width":187,"height":613,"title":"|𝐄| = |∇𝜑|","layer":[
{"data":{"name":"ef"},"mark":{"type":"line","clip":true,"interpolate":"catmull-rom","strokeOpacity":0},"encoding":{"x":{"field":"x","type":"quantitative","scale":{"domain":[-140,0],"nice":false,"zero":false},"axis":{"values":[-100,0],"title":"x [mm]"}},"y":{"field":"y","type":"quantitative","scale":{"domain":[-310,150],"nice":false,"zero":false},"axis":{"values":[100,0,-100,-200,-300],"title":"y [mm]"}},"fill":{"field":"v","type":"quantitative","scale":{"scheme":"magma","domain":[0,96.2]},"legend":null},"order":{"value":null}}},
{"data":{"name":"efc"},"mark":{"type":"line","clip":true,"strokeOpacity":0},"encoding":{"x":{"field":"x","type":"quantitative"},"y":{"field":"y","type":"quantitative"},"fill":{"field":"v","type":"quantitative"},"order":{"value":null}}},
{"data":{"name":"geom"},"mark":{"type":"line","clip":true,"stroke":"white","strokeWidth":1.2,"strokeOpacity":0.85},"encoding":{"x":{"field":"x","type":"quantitative"},"y":{"field":"y","type":"quantitative"},"detail":{"field":"s"},"order":{"value":null}}}]},
{"width":34,"height":1,"view":{"stroke":null},"data":{"values":[{"c":""}]},"mark":{"type":"text"},"encoding":{"text":{"field":"c"}}},
{"width":181,"height":613,"title":"𝑥 stretched 8 ×","layer":[
{"data":{"name":"ef"},"mark":{"type":"line","clip":true,"interpolate":"catmull-rom","strokeOpacity":0},"encoding":{"x":{"field":"x","type":"quantitative","scale":{"domain":[-17,0],"nice":false,"zero":false},"axis":{"values":[-10,0],"title":"x [mm]"}},"y":{"field":"y","type":"quantitative","scale":{"domain":[-310,150],"nice":false,"zero":false},"axis":{"values":[100,0,-100,-200,-300],"labels":false,"title":null}},"fill":{"field":"v","type":"quantitative","scale":{"scheme":"magma","domain":[0,96.2]},"legend":null},"order":{"value":null}}},
{"data":{"name":"efc"},"mark":{"type":"line","clip":true,"strokeOpacity":0},"encoding":{"x":{"field":"x","type":"quantitative"},"y":{"field":"y","type":"quantitative"},"fill":{"field":"v","type":"quantitative"},"order":{"value":null}}},
{"data":{"name":"geom"},"mark":{"type":"line","clip":true,"stroke":"white","strokeWidth":1.2,"strokeOpacity":0.75},"encoding":{"x":{"field":"x","type":"quantitative"},"y":{"field":"y","type":"quantitative"},"detail":{"field":"s"},"order":{"value":null}}}]},
{"width":28,"height":1,"view":{"stroke":null},"data":{"values":[{"c":""}]},"mark":{"type":"text"},"encoding":{"text":{"field":"c"}}},
{"width":30,"height":613,"view":{"stroke":null},"layer":[
{"data":{"name":"cb2"},"mark":{"type":"rect"},"encoding":{"x":{"datum":0,"type":"quantitative","scale":{"domain":[0,1],"nice":false},"axis":null},"x2":{"datum":1},"y":{"field":"a","type":"quantitative","scale":{"domain":[0,98.4],"nice":false},"axis":{"orient":"right","values":[0,9.62,19.24,28.86,38.49,48.11,57.73,67.35,76.97,86.59],"format":".2f","title":"|E|  [V/mm]","titleAngle":270,"titleX":101,"titleY":320}},"y2":{"field":"b"},"fill":{"field":"m","type":"quantitative","scale":{"scheme":"magma","domain":[0,96.2]},"legend":null}}},
{"data":{"name":"tip"},"mark":{"type":"area","color":"#fcfdbf"},"encoding":{"x":{"field":"x","type":"quantitative"},"y":{"field":"y","type":"quantitative"},"y2":{"field":"y2"}}},
{"data":{"name":"edge"},"mark":{"type":"line","stroke":"#333","strokeWidth":1},"encoding":{"x":{"field":"x","type":"quantitative"},"y":{"field":"y","type":"quantitative"},"order":{"value":null}}}]}
]},
{"width":460,"height":1,"view":{"stroke":null},"data":{"values":[{"c":"(b)"}]},"mark":{"type":"text","font":"Liberation Serif","fontSize":20,"dy":17},"encoding":{"text":{"field":"c"}}}
],"spacing":12}
]}
